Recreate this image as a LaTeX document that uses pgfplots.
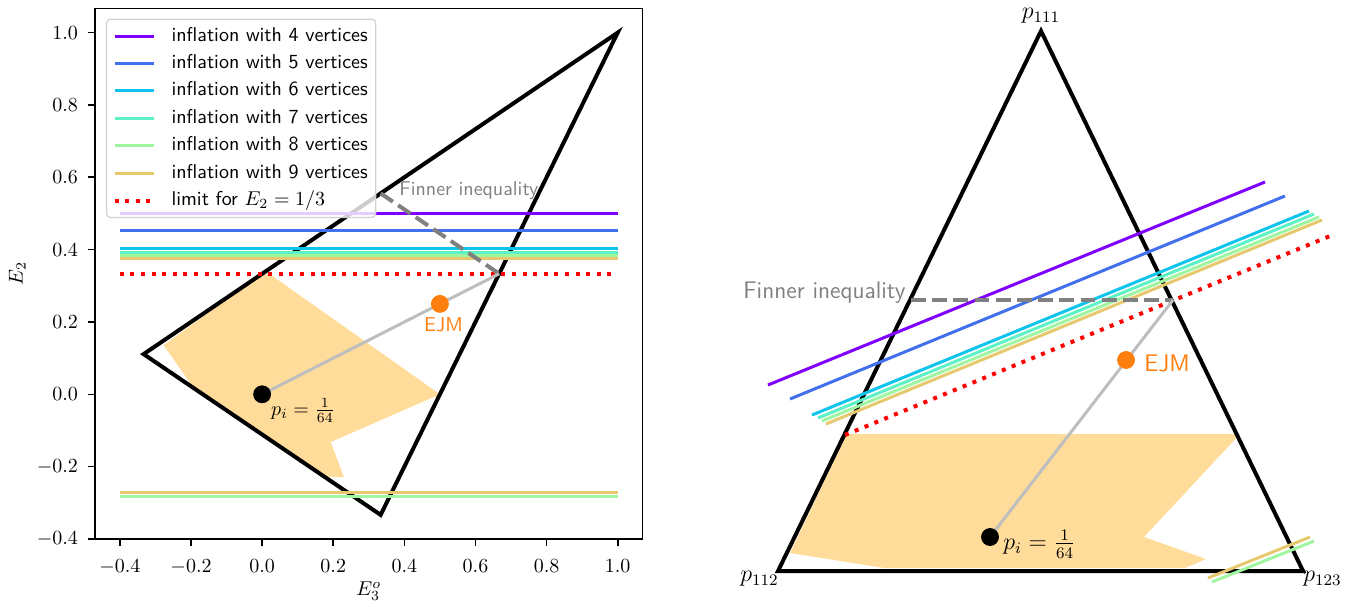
\documentclass[border=0pt]{standalone}
\usepackage{pgfplots}
\pgfplotsset{compat=1.18}
\definecolor{c4}{HTML}{8000FF}
\definecolor{c5}{HTML}{4270ED}
\definecolor{c6}{HTML}{0EC4EC}
\definecolor{c7}{HTML}{5CF2C6}
\definecolor{c8}{HTML}{A0F5A0}
\definecolor{c9}{HTML}{E6C96E}
\definecolor{fillc}{HTML}{FFDC99}
\definecolor{ejm}{HTML}{FF7F0E}
\definecolor{gline}{HTML}{BEBEBE}
\definecolor{gdash}{HTML}{808080}
\begin{document}
\begin{tikzpicture}[x=1pt,y=1pt]
\path (0,0) rectangle (679,303);
\begin{axis}[
  at={(47.5pt,33.5pt)}, anchor=south west, scale only axis,
  width=273.8pt, height=265.25pt,
  xmin=-0.47, xmax=1.07, ymin=-0.4, ymax=1.0667,
  xtick={-0.4,-0.2,0,0.2,0.4,0.6,0.8,1.0},
  ytick={-0.4,-0.2,0,0.2,0.4,0.6,0.8,1.0},
  xticklabels={$-0.4$,$-0.2$,$0.0$,$0.2$,$0.4$,$0.6$,$0.8$,$1.0$},
  yticklabels={$-0.4$,$-0.2$,$0.0$,$0.2$,$0.4$,$0.6$,$0.8$,$1.0$},
  xticklabel style={yshift=-3.5pt},
  yticklabel style={xshift=-1.5pt},
  xtick pos=left, ytick pos=left, tick align=outside,
  major tick length=3.5pt,
  every tick/.style={black, line width=0.8pt},
  axis line style={line width=0.8pt},
  xlabel={$E_3^o$}, ylabel={$E_2$},
  xlabel style={at={(axis description cs:0.5,-0.098)}, anchor=center},
  ylabel style={at={(axis description cs:-0.142,0.5)}, anchor=center, rotate=0},
  clip=false,
  legend cell align=left,
  legend image code/.code={\draw[#1] (0pt,0pt) -- (19.5pt,0pt);},
  legend style={at={(0.020,0.981)}, anchor=north west, font=\sffamily,
    draw=black!18, line width=0.6pt, rounded corners=2pt,
    fill=white, fill opacity=0.8, text opacity=1, draw opacity=1,
    inner xsep=3pt, inner ysep=3pt,
    nodes={inner sep=1pt, text height=7pt, text depth=2pt},
    row sep=2.7pt,
    /tikz/every odd column/.append style={column sep=7pt}},
]
% feasible region
\addplot[fill=fillc, draw=none, forget plot] coordinates {
 (0,0.3333) (0.02,0.3333) (0.5,0) (0.193,-0.132) (0.23,-0.229) (0.177,-0.229)
 (-0.193,0.018) (-0.277,0.136) } -- cycle;
% triangle
\addplot[black, line width=2pt, forget plot, line join=miter] coordinates {
 (1,1) (-0.3333,0.1111) (0.3333,-0.3333) (1,1) } -- cycle;
\addplot[c4, line width=1.5pt] coordinates {(-0.4,0.5) (1,0.5)};
\addlegendentry{inflation with 4 vertices}
\addplot[c5, line width=1.5pt] coordinates {(-0.4,0.454) (1,0.454)};
\addlegendentry{inflation with 5 vertices}
\addplot[c6, line width=1.5pt] coordinates {(-0.4,0.402) (1,0.402)};
\addlegendentry{inflation with 6 vertices}
\addplot[c7, line width=1.5pt] coordinates {(-0.4,0.393) (1,0.393)};
\addlegendentry{inflation with 7 vertices}
\addplot[c8, line width=1.5pt] coordinates {(-0.4,0.384) (1,0.384)};
\addlegendentry{inflation with 8 vertices}
\addplot[c9, line width=1.5pt] coordinates {(-0.4,0.375) (1,0.375)};
\addlegendentry{inflation with 9 vertices}
\addplot[red, line width=2pt, dash pattern=on 2pt off 3.3pt] coordinates {(-0.4,0.3333) (1,0.3333)};
\addlegendentry{limit for $E_2 = 1/3$}
\addplot[c8, line width=1.5pt, forget plot] coordinates {(-0.4,-0.282) (1,-0.282)};
\addplot[c9, line width=1.5pt, forget plot] coordinates {(-0.4,-0.271) (1,-0.271)};
% Finner
\addplot[gdash, line width=2pt, dash pattern=on 7.4pt off 3.2pt, forget plot] coordinates {(0.3333,0.5556) (0.6667,0.3333)};
\addplot[gline, line width=1.5pt, forget plot] coordinates {(0,0) (0.6667,0.3333)};
\addplot[only marks, mark=*, mark size=4.25pt, ejm, forget plot] coordinates {(0.5,0.25)};
\addplot[only marks, mark=*, mark size=4.25pt, black, forget plot] coordinates {(0,0)};
\node[anchor=west, text=gdash, font=\sffamily, inner sep=0pt] at (axis cs:0.385,0.562) {Finner inequality};
\node[anchor=center, text=ejm, font=\sffamily, inner sep=0pt] at (axis cs:0.51,0.193) {EJM};
\node[anchor=west, inner sep=0pt] at (axis cs:0.024,-0.045) {$p_i = \frac{1}{64}$};
\end{axis}
\begin{axis}[
  at={(350pt,0pt)}, anchor=south west, scale only axis,
  width=329pt, height=303pt,
  xmin=700, xmax=1358, ymin=0, ymax=606, y dir=reverse,
  hide axis, clip=false,
]
\addplot[fill=fillc, draw=none] coordinates {
 (847,434) (1240,434) (1144,537) (1206,559) (1185,568) (884,568) (790,553) } -- cycle;
\addplot[black, line width=2pt, line join=miter] coordinates {
 (778,571) (1303,571) (1041,31) (778,571) } -- cycle;
\addplot[c4, line width=1.5pt] coordinates {(768,385) (1265,182)};
\addplot[c5, line width=1.5pt] coordinates {(790,399) (1285,196)};
\addplot[c6, line width=1.5pt] coordinates {(812,415) (1309,211)};
\addplot[c7, line width=1.5pt] coordinates {(818,418) (1314,214)};
\addplot[c8, line width=1.5pt] coordinates {(822,421) (1319,217)};
\addplot[c9, line width=1.5pt] coordinates {(826,424) (1322,220)};
\addplot[red, line width=2pt, dash pattern=on 2pt off 3.3pt] coordinates {(845,435) (1335,234)};
\addplot[c8, line width=1.5pt] coordinates {(1212,582) (1314,541)};
\addplot[c9, line width=1.5pt] coordinates {(1208,578) (1310,537)};
\addplot[gdash, line width=2pt, dash pattern=on 7.4pt off 3.2pt] coordinates {(911,300) (1173,300)};
\addplot[gline, line width=1.5pt] coordinates {(990,537) (1173,300)};
\addplot[only marks, mark=*, mark size=4.25pt, ejm] coordinates {(1126,360)};
\addplot[only marks, mark=*, mark size=4.25pt, black] coordinates {(990,537)};
\node[anchor=east, text=gdash, font=\sffamily\large, inner sep=0pt] at (axis cs:906,293) {Finner inequality};
\node[anchor=west, text=ejm, font=\sffamily\large, inner sep=0pt] at (axis cs:1144,363) {EJM};
\node[anchor=west, font=\large, inner sep=0pt] at (axis cs:1003,544) {$p_i = \frac{1}{64}$};
\node[anchor=center, font=\large, inner sep=0pt] at (axis cs:1041,16) {$p_{111}$};
\node[anchor=east, font=\large, inner sep=0pt] at (axis cs:779,579) {$p_{112}$};
\node[anchor=west, font=\large, inner sep=0pt] at (axis cs:1303,579) {$p_{123}$};
\end{axis}
\end{tikzpicture}
\end{document}
